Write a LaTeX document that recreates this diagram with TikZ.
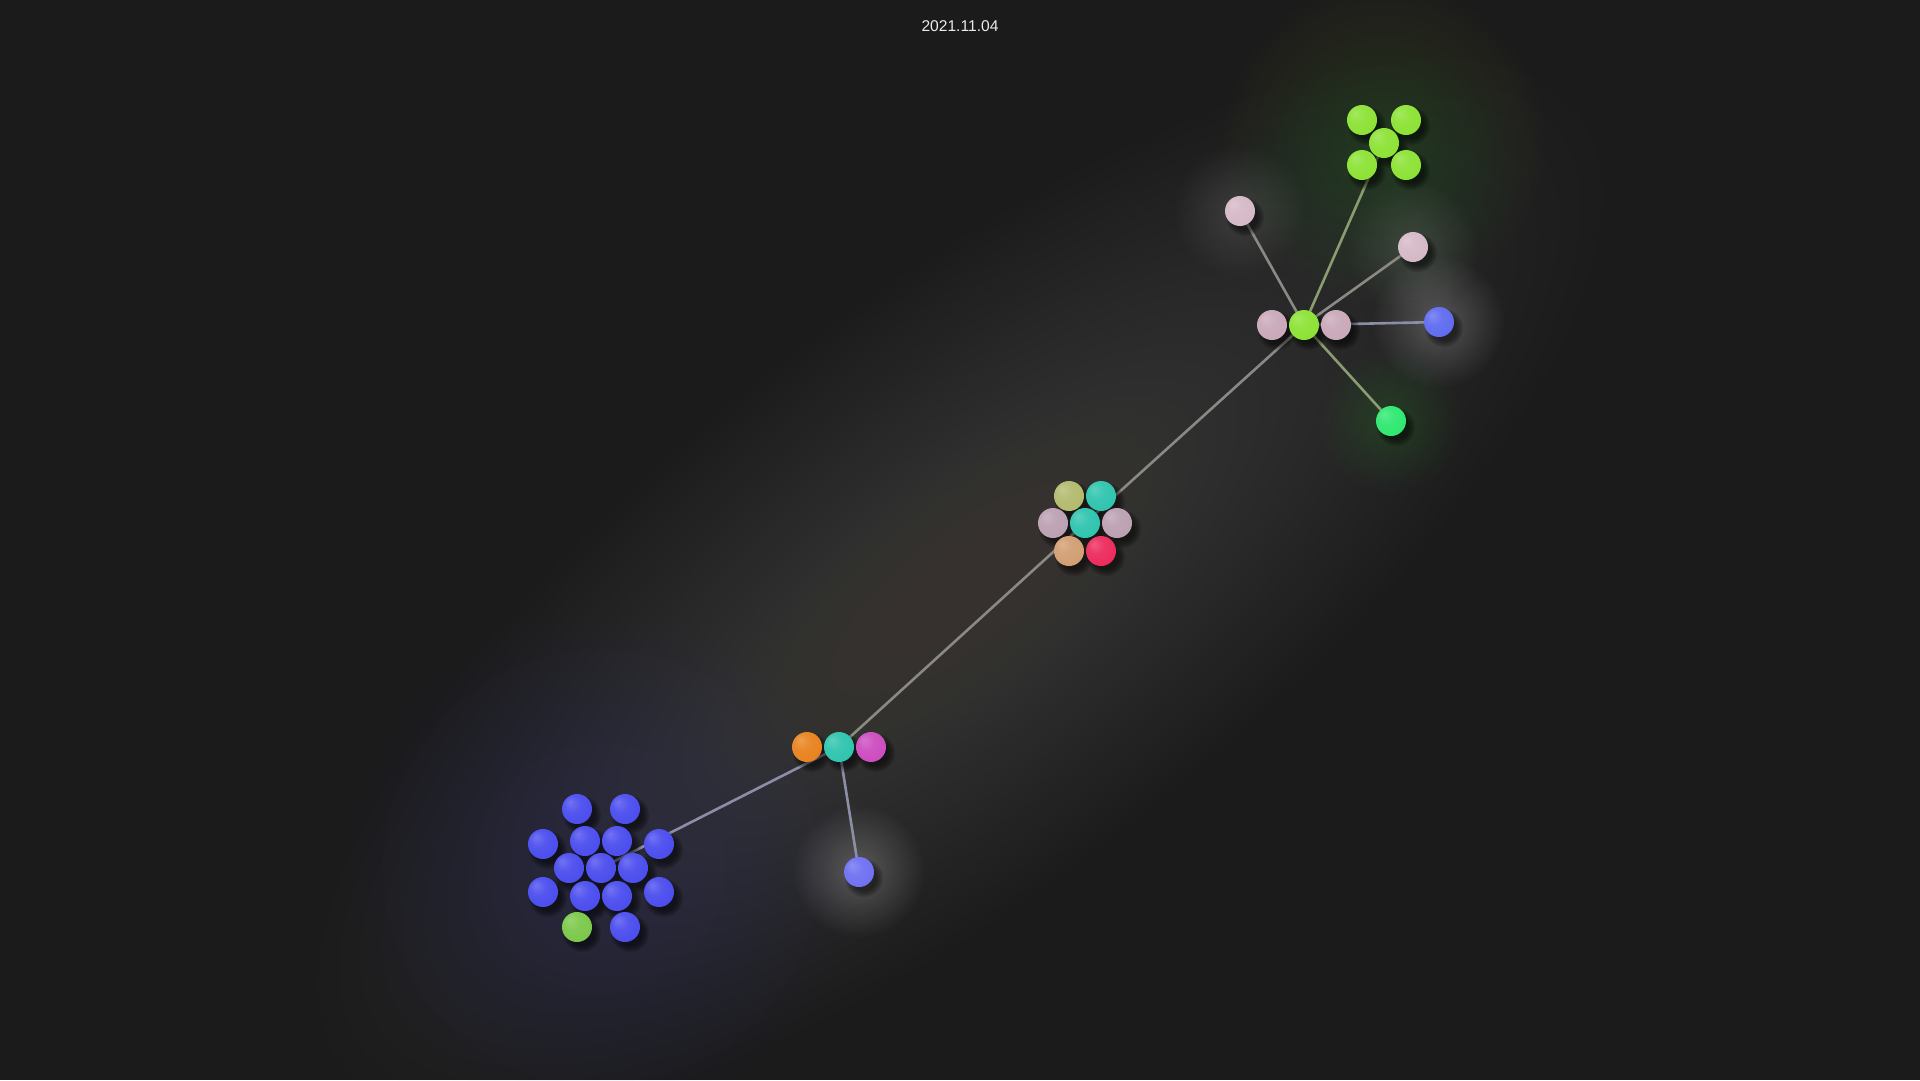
\documentclass[tikz,border=0pt]{standalone}
\usepackage{fontspec}
\setmainfont{Liberation Sans}
\pgfdeclarelayer{glow}
\pgfdeclarelayer{edges}
\pgfdeclarelayer{shadow}
\pgfsetlayers{glow,edges,shadow,main}
\definecolor{bgc}{HTML}{1B1B1B}
\definecolor{glowgray}{HTML}{8A8582}
\definecolor{glowblue}{HTML}{4A52B8}
\definecolor{glowgreen}{HTML}{A0CC44}
\definecolor{cLime}{HTML}{8CE234}
\definecolor{cPinkA}{HTML}{D5B8C7}
\definecolor{cPinkB}{HTML}{C9A8B9}
\definecolor{cBlueR}{HTML}{5F6BF0}
\definecolor{cBright}{HTML}{2EE870}
\definecolor{cOlive}{HTML}{B2BA6E}
\definecolor{cTeal}{HTML}{2EC4AE}
\definecolor{cPinkM}{HTML}{BBA0B2}
\definecolor{cTan}{HTML}{D19E72}
\definecolor{cRed}{HTML}{EC2A5C}
\definecolor{cOrange}{HTML}{E8821E}
\definecolor{cMagenta}{HTML}{CC4CC0}
\definecolor{cBlueC}{HTML}{4A4CEE}
\definecolor{cBlueS}{HTML}{6E70F2}
\definecolor{cGreenS}{HTML}{7CC84A}
\definecolor{eGray}{HTML}{8A8984}
\definecolor{eGreen}{HTML}{8A9C70}
\definecolor{eBlue}{HTML}{8C8EA8}
\colorlet{sb}{red}
\pgfdeclareradialshading[sb]{softball}{\pgfqpoint{-12bp}{12bp}}{color(0bp)=(sb!78!white); color(14bp)=(sb!94!white); color(32bp)=(sb); color(50bp)=(sb!90!black)}
\tikzset{
  ball/.style={circle, minimum size=30, inner sep=0pt, shade, shading=softball, /utils/exec={\colorlet{sb}{#1}}},
  edge/.style={line width=2.6, draw=#1, line cap=round},
}
% soft glow made of stacked translucent discs
\newcommand\glowcirc[4]{%
  \pgfmathsetmacro\glowa{1-exp(ln(1-#4)/25)}%
  \pgfmathsetmacro\glowstep{#2/25}%
  \foreach \k in {1,...,25}{\fill[#3, opacity=\glowa] (#1) circle ({\glowstep*\k});}}
\newcommand\glowell[6]{%
  \pgfmathsetmacro\glowa{1-exp(ln(1-#6)/30)}%
  \pgfmathsetmacro\glowsx{#2/30}%
  \pgfmathsetmacro\glowsy{#3/30}%
  \foreach \k in {1,...,30}{\fill[#5, opacity=\glowa, rotate around={#4:(#1)}] (#1) ellipse ({\glowsx*\k} and {\glowsy*\k});}}
\begin{document}
\begin{tikzpicture}[x=1pt,y=-1pt]
\useasboundingbox (0,0) rectangle (1920,1080);
\begin{pgfonlayer}{glow}
\fill[bgc] (0,0) rectangle (1920,1080);
\end{pgfonlayer}
% title
\node[text=white!92!black, font=\fontsize{15.6}{18}\selectfont] (title) at (960,26) {2021.11.04};
% balls: green cluster
\node[ball=cLime] (g1) at (1362,120) {};
\node[ball=cLime] (g2) at (1406,120) {};
\node[ball=cLime] (g3) at (1384,143) {};
\node[ball=cLime] (g4) at (1362,165) {};
\node[ball=cLime] (g5) at (1406,165) {};
% hub
\node[ball=cPinkA] (pTL) at (1240,211) {};
\node[ball=cPinkA] (pR) at (1413,247) {};
\node[ball=cPinkB] (hL) at (1272,325) {};
\node[ball=cLime] (hub) at (1304,325) {};
\node[ball=cPinkB] (hR) at (1336,325) {};
\node[ball=cBlueR] (bR) at (1439,322) {};
\node[ball=cBright] (bgr) at (1391,421) {};
% middle cluster
\node[ball=cOlive] (m1) at (1069,496) {};
\node[ball=cTeal] (m2) at (1101,496) {};
\node[ball=cPinkM] (m3) at (1053,523) {};
\node[ball=cTeal] (m4) at (1085,523) {};
\node[ball=cPinkM] (m5) at (1117,523) {};
\node[ball=cTan] (m6) at (1069,551) {};
\node[ball=cRed] (m7) at (1101,551) {};
% trio
\node[ball=cOrange] (t1) at (807,747) {};
\node[ball=cTeal] (t2) at (839,747) {};
\node[ball=cMagenta] (t3) at (871,747) {};
\node[ball=cBlueS] (bs) at (859,872) {};
% blue cluster
\node[ball=cBlueC] (b1) at (577,809) {};
\node[ball=cBlueC] (b2) at (625,809) {};
\node[ball=cBlueC] (b3) at (543,844) {};
\node[ball=cBlueC] (b4) at (585,841) {};
\node[ball=cBlueC] (b5) at (617,841) {};
\node[ball=cBlueC] (b6) at (659,844) {};
\node[ball=cBlueC] (b7) at (569,868) {};
\node[ball=cBlueC] (b8) at (601,868) {};
\node[ball=cBlueC] (b9) at (633,868) {};
\node[ball=cBlueC] (b10) at (543,892) {};
\node[ball=cBlueC] (b11) at (585,896) {};
\node[ball=cBlueC] (b12) at (617,896) {};
\node[ball=cBlueC] (b13) at (659,892) {};
\node[ball=cGreenS] (bgs) at (577,927) {};
\node[ball=cBlueC] (b14) at (625,927) {};
% shadows
\begin{pgfonlayer}{shadow}
\foreach \n in {g1,g2,g3,g4,g5,pTL,pR,hL,hub,hR,bR,bgr,m1,m2,m3,m4,m5,m6,m7,t1,t2,t3,bs,b1,b2,b3,b4,b5,b6,b7,b8,b9,b10,b11,b12,b13,bgs,b14}{
  \foreach \r in {13,14.5,16,17.5,19}
    \fill[black, opacity=.13] ([shift={(5,6)}]\n.center) circle (\r);
}
\end{pgfonlayer}
% edges
\begin{pgfonlayer}{edges}
\draw[edge=eBlue] (b8.center) -- (t2.center);
\draw[edge=eBlue] (t2.center) -- (bs.center);
\draw[edge=eGray] (t2.center) -- (m4.center);
\draw[edge=eGray] (m4.center) -- (hub.center);
\draw[edge=eGray] (hub.center) -- (pTL.center);
\draw[edge=eGreen] (hub.center) -- (g3.center);
\draw[edge=eGray] (hub.center) -- (pR.center);
\draw[edge=eBlue] (hub.center) -- (bR.center);
\draw[edge=eGreen] (hub.center) -- (bgr.center);
\end{pgfonlayer}
% glows
\begin{pgfonlayer}{glow}
\glowell{960,590}{780}{290}{37.7}{glowgray}{0.30}
\glowcirc{b8.center}{260}{glowblue}{0.22}
\glowcirc{g3.center}{160}{glowgreen}{0.20}
\glowcirc{pTL.center}{65}{white}{0.20}
\glowcirc{pR.center}{65}{white}{0.20}
\glowcirc{bR.center}{65}{white}{0.24}
\glowcirc{bs.center}{65}{white}{0.26}
\glowcirc{bgr.center}{70}{cBright}{0.22}
\end{pgfonlayer}
\end{tikzpicture}
\end{document}
